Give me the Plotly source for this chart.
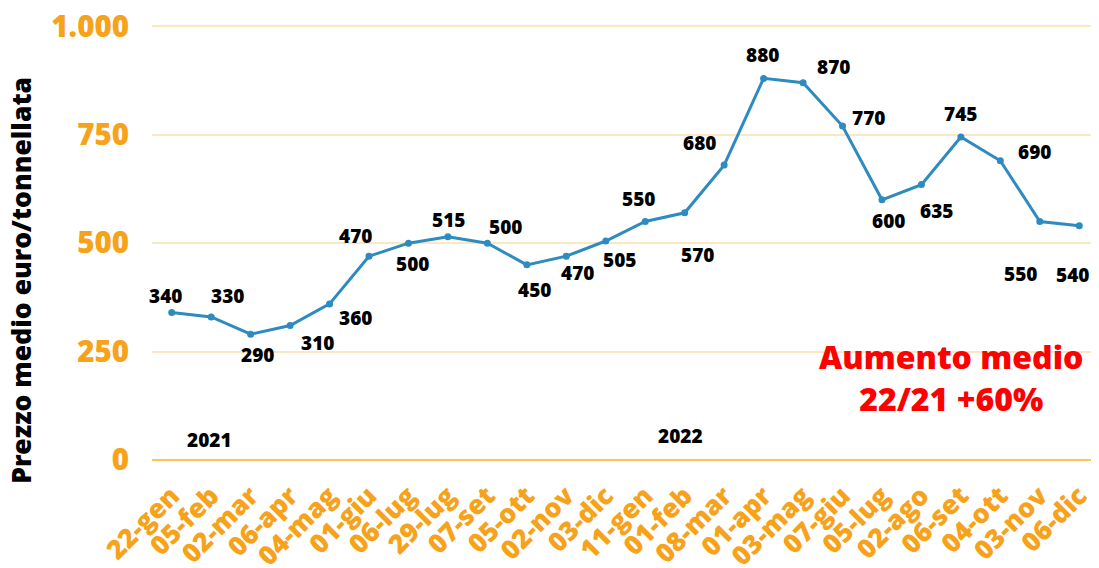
import plotly.graph_objects as go

dates = ["22-gen", "05-feb", "02-mar", "06-apr", "04-mag", "01-giu", "06-lug", "29-lug",
         "07-set", "05-ott", "02-nov", "03-dic", "11-gen", "01-feb", "08-mar", "01-apr",
         "03-mag", "07-giu", "05-lug", "02-ago", "06-set", "04-ott", "03-nov", "06-dic"]
prices = [340, 330, 290, 310, 360, 470, 500, 515, 500, 450, 470, 505,
          550, 570, 680, 880, 870, 770, 600, 635, 745, 690, 550, 540]
y_ticks = [0, 250, 500, 750, 1000]
y_tick_labels = ["0", "250", "500", "750", "1.000"]

# label offsets in pixels (dx, dy) relative to each point (style only)
label_offsets = [(-6, -17), (16, -21), (7, 21), (27, 17), (26, 14), (-14, -20), (4, 21), (1, -17),
                 (18, -16), (8, 25), (11, 17), (14, 19), (-7, -22), (13, 42), (-25, -22), (-1, -23),
                 (30, -16), (26, -8), (7, 21), (15, 26), (0, -23), (34, -9), (-19, 53), (-7, 49)]

ORANGE = "#F7A21B"
FONT = "Open Sans"
xs = list(range(len(dates)))

fig = go.Figure()
fig.add_trace(go.Scatter(
    x=xs, y=prices, mode="lines+markers",
    line=dict(color="#2E8BC0", width=3),
    marker=dict(color="#2E8BC0", size=7),
    hoverinfo="skip", showlegend=False,
))

for i, (xv, yv) in enumerate(zip(xs, prices)):
    dx, dy = label_offsets[i]
    fig.add_annotation(x=xv, y=yv, text=str(yv), showarrow=False,
                       xshift=dx, yshift=-dy,
                       font=dict(family=FONT, size=19, color="black", weight=800))

fig.add_annotation(x=0.95, y=46, text="2021", showarrow=False,
                   font=dict(family=FONT, size=19, color="black", weight=800))
fig.add_annotation(x=12.9, y=55, text="2022", showarrow=False,
                   font=dict(family=FONT, size=19, color="black", weight=800))
fig.add_annotation(x=19.75, y=190, text="Aumento medio<br>22/21 +60%", showarrow=False,
                   font=dict(family=FONT, size=32, color="#FF0000", weight=800),
                   align="center")
fig.add_annotation(xref="paper", yref="paper", x=0, y=0.409, xshift=-131,
                   xanchor="center", yanchor="middle",
                   text="Prezzo medio euro/tonnellata", textangle=-90, showarrow=False,
                   font=dict(family=FONT, size=26.5, color="black", weight=800))

fig.update_layout(
    width=1099, height=568,
    margin=dict(l=144, r=8, t=14, b=116),
    plot_bgcolor="white", paper_bgcolor="white",
    xaxis=dict(
        range=[-0.5, 23.5], tickmode="array", tickvals=xs, ticktext=dates,
        tickangle=-45, showgrid=False, zeroline=False, showline=False, automargin=False,
        ticks="", ticklabelstandoff=14, ticklabeloverflow="allow",
        tickfont=dict(family=FONT, size=26.5, color=ORANGE, weight=800),
    ),
    yaxis=dict(
        range=[0, 1010], tickmode="array", tickvals=y_ticks, ticktext=y_tick_labels,
        showgrid=True, gridcolor="#FDE7C2", gridwidth=2, zeroline=True,
        zerolinecolor="#FFC35A", zerolinewidth=2, ticks="", automargin=False,
        ticklabelstandoff=22, ticklabeloverflow="allow",
        tickfont=dict(family=FONT, size=29.5, color=ORANGE, weight=800),
    ),
)

fig.write_html("out.html")
